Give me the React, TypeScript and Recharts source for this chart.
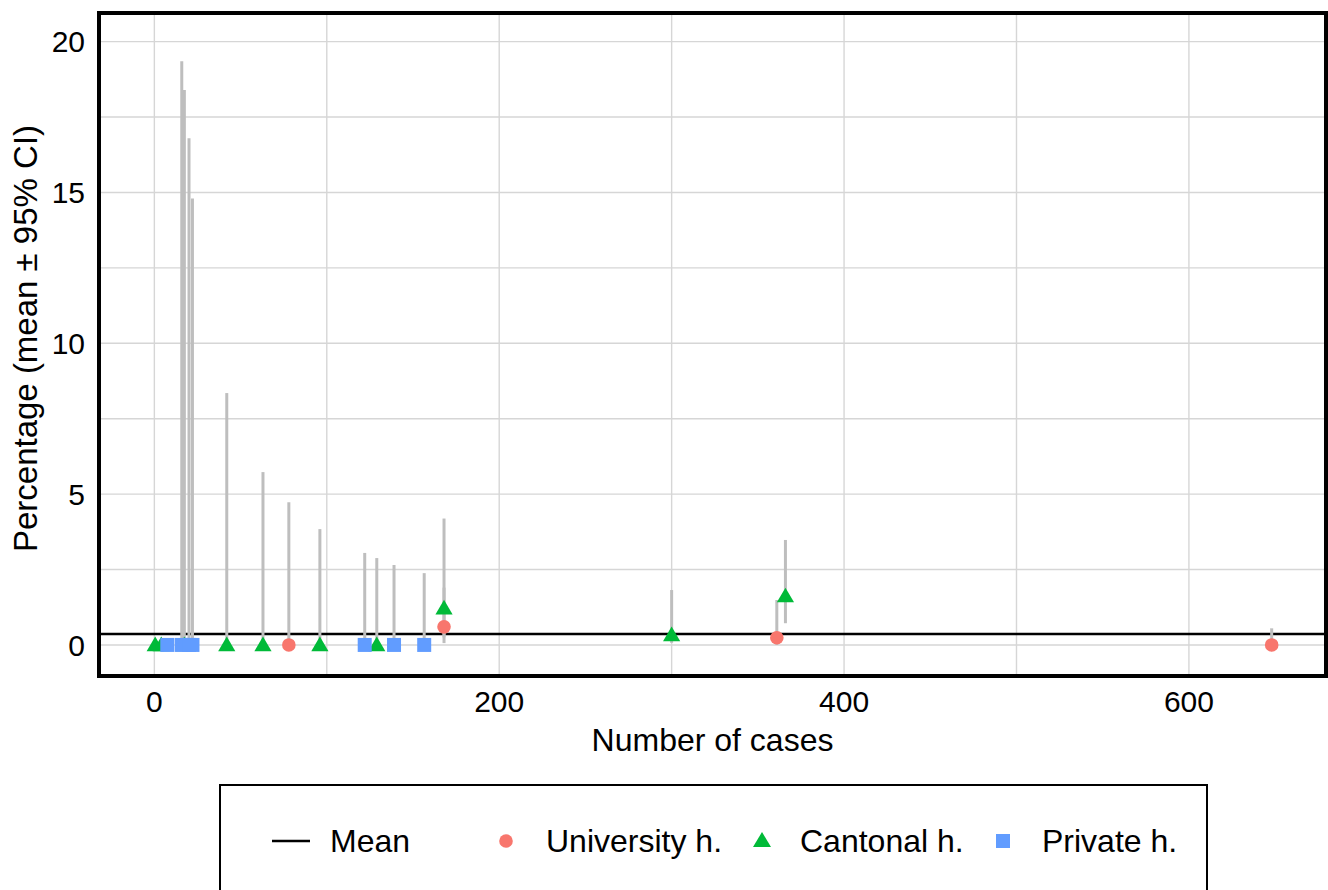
import React from 'react';
import {
  ScatterChart,
  Scatter,
  XAxis,
  YAxis,
  CartesianGrid,
  ReferenceLine,
  ErrorBar,
  Label,
} from 'recharts';

// Percentage per hospital against its number of cases, with 95% CI
const meanPct = 0.36;

const universityCases = [78, 168, 361, 648];
const universityPct = [0, 0.6, 0.24, 0];
const universityLower = [0, 0.06, 0, 0];
const universityUpper = [4.73, 1.9, 1.49, 0.55];

const cantonalCases = [0.5, 4, 17.4, 42, 63, 96, 129, 168, 300, 366];
const cantonalPct = [0, 0, 0, 0, 0, 0, 0, 1.22, 0.33, 1.62];
const cantonalLower = [null, null, 0, 0, 0, 0, 0, 0.25, 0.07, 0.72];
const cantonalUpper = [null, null, 18.4, 8.35, 5.73, 3.84, 2.88, 4.19, 1.82, 3.48];

const privateCases = [7.5, 15.9, 20.1, 22.1, 122, 139, 156.5];
const privatePct = [0, 0, 0, 0, 0, 0, 0];
const privateLower = [null, 0, 0, 0, 0, 0, 0];
const privateUpper = [null, 19.35, 16.8, 14.8, 3.05, 2.65, 2.38];

const xTicks = [0, 200, 400, 600];
const yTicks = [0, 5, 10, 15, 20];
const xGrid = [0, 100, 200, 300, 400, 500, 600];
const yGrid = [0, 2.5, 5, 7.5, 10, 12.5, 15, 17.5, 20];

const RED = '#F8766D';
const GREEN = '#00BA38';
const BLUE = '#619CFF';
const FONT = '"Liberation Sans", Arial, Helvetica, sans-serif';

type Row = { x: number; y: number; err: [number, number] };

function rows(
  cases: number[],
  pct: number[],
  lower: (number | null)[],
  upper: (number | null)[]
): Row[] {
  return cases.map((x, i) => ({
    x,
    y: pct[i],
    err: [
      lower[i] == null ? 0 : pct[i] - (lower[i] as number),
      upper[i] == null ? 0 : (upper[i] as number) - pct[i],
    ],
  }));
}

const universityRows = rows(universityCases, universityPct, universityLower, universityUpper);
const cantonalRows = rows(cantonalCases, cantonalPct, cantonalLower, cantonalUpper);
const privateRows = rows(privateCases, privatePct, privateLower, privateUpper);
const ciRows = [...universityRows, ...cantonalRows, ...privateRows];

const Dot = (p: any) => <circle cx={p.cx} cy={p.cy} r={6.8} fill={RED} />;
const Tri = (p: any) => (
  <polygon
    points={`${p.cx - 8.6},${p.cy + 6.3} ${p.cx + 8.6},${p.cy + 6.3} ${p.cx},${p.cy - 8.4}`}
    fill={GREEN}
  />
);
const Sq = (p: any) => <rect x={p.cx - 7} y={p.cy - 7} width={14} height={14} fill={BLUE} />;
const Nothing = () => <g />;

function LegendBox() {
  const cy = 55;
  const text = { fontFamily: FONT, fontSize: 32, fill: '#000' } as const;
  return (
    <div
      style={{
        position: 'absolute',
        left: 219,
        top: 784,
        width: 989,
        height: 140,
        border: '2px solid #000',
        boxSizing: 'border-box',
        background: '#fff',
      }}
    >
      <svg width={985} height={136}>
        <line x1={51} x2={89} y1={cy} y2={cy} stroke="#000" strokeWidth={2.6} />
        <text x={109} y={cy} dominantBaseline="central" {...text}>Mean</text>
        <circle cx={285} cy={cy} r={6.8} fill={RED} />
        <text x={325} y={cy} dominantBaseline="central" {...text}>University h.</text>
        <polygon points={`${532},${cy + 6} ${550},${cy + 6} ${541},${cy - 9}`} fill={GREEN} />
        <text x={579} y={cy} dominantBaseline="central" {...text}>Cantonal h.</text>
        <rect x={775} y={cy - 7} width={14} height={14} fill={BLUE} />
        <text x={821} y={cy} dominantBaseline="central" {...text}>Private h.</text>
      </svg>
    </div>
  );
}

export default function App() {
  return (
    <div style={{ position: 'relative', width: 1328, height: 890, overflow: 'hidden', background: '#fff' }}>
      <style>{'body{margin:0}'}</style>
      <ScatterChart
        width={1328}
        height={890}
        margin={{ top: 13, right: 2, bottom: 134, left: 9 }}
      >
        <CartesianGrid
          stroke="#d6d6d6"
          strokeWidth={1.4}
          verticalValues={xGrid}
          horizontalValues={yGrid}
        />
        <XAxis
          type="number"
          dataKey="x"
          domain={[-32.1, 679.5]}
          ticks={xTicks}
          allowDataOverflow
          axisLine={false}
          tickLine={false}
          tickSize={0}
          tickMargin={15}
          height={80}
          tick={{ fontSize: 30, fill: '#000', fontFamily: FONT }}
        >
          <Label
            value="Number of cases"
            position="insideBottom"
            offset={5}
            style={{ fontSize: 32, fill: '#000', fontFamily: FONT }}
          />
        </XAxis>
        <YAxis
          type="number"
          dataKey="y"
          domain={[-1.03, 20.95]}
          ticks={yTicks}
          allowDataOverflow
          axisLine={false}
          tickLine={false}
          tickSize={0}
          tickMargin={14}
          width={90}
          tick={{ fontSize: 30, fill: '#000', fontFamily: FONT }}
        >
          <Label
            value="Percentage (mean ± 95% CI)"
            angle={-90}
            position="insideLeft"
            offset={16}
            dy={-6}
            style={{ fontSize: 33, fill: '#000', fontFamily: FONT, textAnchor: 'middle' }}
          />
        </YAxis>
        <ReferenceLine y={meanPct} stroke="#000" strokeWidth={2.6} />
        <Scatter data={ciRows} shape={Nothing} isAnimationActive={false}>
          <ErrorBar dataKey="err" direction="y" width={0} stroke="#bebebe" strokeWidth={3} isAnimationActive={false} />
        </Scatter>
        <Scatter data={cantonalRows} shape={Tri} isAnimationActive={false} />
        <Scatter data={privateRows} shape={Sq} isAnimationActive={false} />
        <Scatter data={universityRows} shape={Dot} isAnimationActive={false} />
      </ScatterChart>
      <div
        style={{
          position: 'absolute',
          left: 97,
          top: 11,
          width: 1231,
          height: 667,
          border: '4px solid #000',
          boxSizing: 'border-box',
          pointerEvents: 'none',
        }}
      />
      <LegendBox />
    </div>
  );
}
